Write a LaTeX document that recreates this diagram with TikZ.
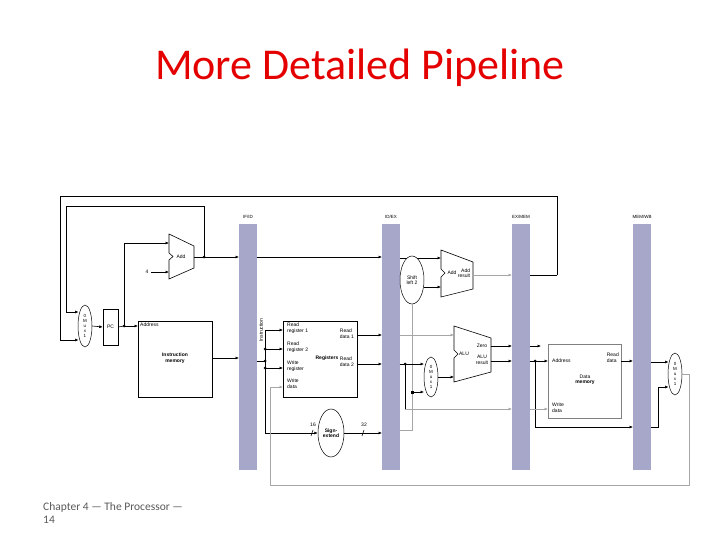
\documentclass[tikz,border=0pt]{standalone}
\usepackage{fontspec}
\setmainfont{Liberation Sans}
\newfontfamily\titlefont{Carlito}
\usetikzlibrary{arrows.meta,shapes.geometric}
\begin{document}
\begin{tikzpicture}[x=1pt,y=-1pt,
  w/.style={line width=0.6pt},
  a/.style={line width=0.6pt,-{Latex[length=3.5pt,width=3pt]}},
  g/.style={line width=0.6pt,gray!70},
  ga/.style={line width=0.6pt,gray!70,-{Latex[length=3.5pt,width=3pt]}},
  bar/.style={fill=blue!25!gray!55,draw=none},
  box/.style={draw,line width=0.5pt,fill=white},
  dot/.style={circle,fill,inner sep=0pt,minimum size=3pt},
  t/.style={font=\fontsize{5}{5.5}\selectfont,inner sep=0pt,align=left},
  tc/.style={font=\fontsize{5}{5.5}\selectfont,inner sep=0pt,align=center},
  mux/.style={draw,ellipse,line width=0.5pt,minimum width=14pt,minimum height=42pt,inner sep=0pt,font=\fontsize{4.5}{5}\selectfont,align=center}]
\useasboundingbox (0,0) rectangle (720,540);
\node[font=\titlefont\fontsize{44}{46}\selectfont,text=red!90!black] (title) at (360,68) {More Detailed Pipeline};
\node[font=\titlefont\fontsize{11.5}{13}\selectfont,text=gray!70!black,align=left,anchor=north west,inner sep=0pt] (foot) at (43,502) {Chapter 4 — The Processor —\\14};
% bars
\foreach \x/\l in {239/{IF/ID}, 382/{ID/EX}, 512/{EX/MEM}, 633/{MEM/WB}}{
  \fill[bar] (\x,224) rectangle ++(17.5,246);
  \node[tc,font=\fontsize{4.5}{5}\selectfont] at (\x+9,217) {\l};
}
% mux1 / PC
\node[mux] (m1) at (85,326) {0\\M\\u\\x\\1};
\node[box,minimum width=15pt,minimum height=36pt,inner sep=0pt,tc] (pc) at (110.5,327) {PC};
\node[box,minimum width=74pt,minimum height=76pt] (im) at (175,359) {};
\node[t,anchor=north west] at (140,323) {Address};
\node[tc] at (175,358) {\textbf{Instruction}\\\textbf{memory}};
\coordinate (j1) at (124,326);
\draw[a] (m1.east) -- (pc.west);
\draw[w] (pc.east) -- (j1); \node[dot] at (j1) {};
\draw[a] (j1) -- (138,326);
% Add1
\draw[w,fill=white] (169,234) -- (194,246) -- (194,268) -- (169,279) -- (169,260) -- (173,256.5) -- (169,253) -- cycle;
\node[t] at (181,257) {Add};
\draw[a] (j1) -- (124,243) -- (169,243);
\node[t] (four) at (147,272) {4};
\draw[a] (151,272) -- (169,272);
\coordinate (j2) at (204,257);
\draw[w] (194,257) -- (j2); \node[dot] at (j2) {};
\draw[a] (j2) -- (239,257);
\draw[w] (j2) -- (204,206) -- (66,206) -- (66,312);
\draw[a] (66,312) -- (78.5,312);
\draw[w] (557,275) -- (529.5,275);
\draw[w] (557,275) -- (557,196) -- (60,196) -- (60,340);
\draw[a] (60,340) -- (78.5,340);
\draw[a] (212,358) -- (239,358);
% ID stage
\draw[a] (256.5,257) -- (382,257);
\node[t,rotate=90] at (261,330) {Instruction};
\draw[w] (256.5,361) -- (265,361);
\foreach \y in {349,361,368} \node[dot] at (265,\y) {};
\draw[w] (265,330) -- (265,433);
\draw[a] (265,330) -- (283,330);
\draw[a] (265,349) -- (283,349);
\draw[a] (265,368) -- (283,368);
\node[box,minimum width=74pt,minimum height=76pt] (rf) at (320,359) {};
\node[t,anchor=north west] at (287,323) {Read\\register 1};
\node[t,anchor=north west] at (287,342) {Read\\register 2};
\node[t,anchor=north west] at (287,361) {Write\\register};
\node[t,anchor=north west] at (287,379) {Write\\data};
\node[t,anchor=north east] at (354,329) {Read\\data 1};
\node[t,anchor=north east] at (354,357) {Read\\data 2};
\node[t,font=\bfseries\fontsize{5}{5.5}\selectfont] at (327,358) {Registers};
\draw[a] (357,335) -- (382,335);
\draw[a] (357,364) -- (382,364);
\node[draw,ellipse,line width=0.5pt,minimum width=26pt,minimum height=48pt,inner sep=0pt,tc] (se) at (331,433) {\textbf{Sign-}\\\textbf{extend}};
\draw[a] (265,433) -- (se.west);
\draw[a] (se.east) -- (382,433);
\draw[w] (311,436) -- (313,430); \node[t] at (313,425) {16};
\draw[w] (362,436) -- (364,430); \node[t] at (364,425) {32};
\draw[ga] (270,485) -- (270,387) -- (283,387);
% EX stage
\draw[w,fill=white] (441,250) -- (473,262) -- (473,289) -- (441,297) -- (441,277) -- (445,273) -- (441,269) -- cycle;
\node[t] at (452,273) {Add};
\node[t,align=right] at (464,273) {Add\\result};
\draw[a] (399.5,258) -- (441,258);
\node[draw,ellipse,line width=0.5pt,minimum width=24pt,minimum height=48pt,inner sep=0pt,tc,fill=white] (sl) at (412,280) {Shift\\left 2};
\draw[a] (424,287) -- (441,287);
\draw[ga] (473,275) -- (512,275);
\draw[g] (399.5,430) -- (412,430) -- (sl.south);
\draw[w,fill=white] (454,326) -- (491,338) -- (491,372) -- (454,382) -- (454,358) -- (458,354) -- (454,350) -- cycle;
\node[t] at (464,354) {ALU};
\node[t] at (482,346) {Zero};
\node[t,align=center] at (482,360) {ALU\\result};
\draw[ga] (399.5,335) -- (454,335);
\node[mux,minimum height=40pt] (m2) at (431,377) {0\\M\\u\\x\\1};
\node[dot] at (405,364) {};
\draw[a] (399.5,364) -- (424,364);
\draw[w] (405,364) -- (405,409);
\draw[ga] (405,409) -- (512,409);
\node[fill,inner sep=0pt,minimum size=3pt] at (412,392) {};
\draw[a] (412,392) -- (424,392);
\draw[a] (438,377) -- (454,377);
\draw[a] (491,346) -- (512,346);
\draw[a] (491,361) -- (512,361);
% MEM stage
\draw[a] (529.5,346) -- (541,346);
\node[dot] at (535,361) {};
\draw[a] (529.5,361) -- (548,361);
\draw[w] (535,361) -- (535,427);
\draw[a] (535,427) -- (633,427);
\node[box,draw=gray,minimum width=73pt,minimum height=74pt] (dm) at (584.5,381) {};
\node[t,anchor=west] at (552,361) {Address};
\node[t,anchor=north east] at (619,353) {Read\\data};
\node[tc] at (585,380) {Data\\\textbf{memory}};
\node[t,anchor=north west] at (552,403) {Write\\data};
\draw[ga] (529.5,409) -- (548,409);
\draw[a] (621,361) -- (633,361);
% WB
\node[mux,minimum height=42pt] (m3) at (675,374) {0\\M\\u\\x\\1};
\draw[a] (650.5,362) -- (668.5,362);
\draw[w] (650.5,427) -- (658,427) -- (658,387);
\draw[a] (658,387) -- (668.5,387);
\draw[g] (m3.east) -- (689,374) -- (689,485) -- (270,485);
\end{tikzpicture}
\end{document}
